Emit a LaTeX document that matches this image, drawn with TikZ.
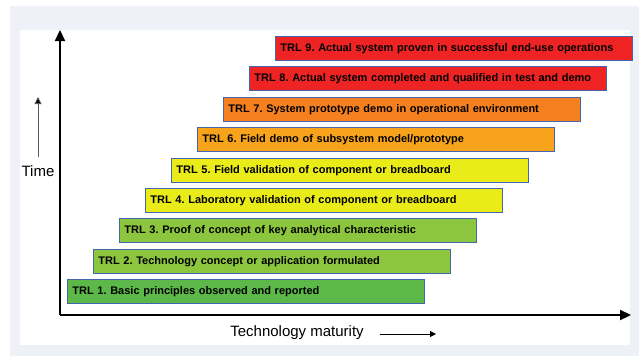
\documentclass[tikz,border=0pt]{standalone}
\usepackage{fontspec}
\setmainfont{Liberation Sans}
\usetikzlibrary{arrows.meta}
\definecolor{panel}{HTML}{EEF2F8}
\definecolor{barline}{HTML}{4565AE}
\definecolor{trlred}{HTML}{EE2424}
\definecolor{trldorange}{HTML}{F5801F}
\definecolor{trlorange}{HTML}{F7A41C}
\definecolor{trlyellow}{HTML}{EAEC1A}
\definecolor{trllgreen}{HTML}{8CC63F}
\definecolor{trlgreen}{HTML}{5CB848}
\frenchspacing
\begin{document}
\begin{tikzpicture}[x=1pt,y=-1pt,
  trlbar/.style={draw=barline,line width=0.8pt,fill=#1,anchor=north west,
    minimum height=24pt,inner xsep=5pt,inner ysep=0pt,text width=347pt,
    align=left,font=\bfseries\fontsize{11}{13}\selectfont},
  axis/.style={line width=2.2pt,-{Triangle[length=11pt,width=10pt]}},
  axislabel/.style={font=\fontsize{15}{17}\selectfont,inner sep=0pt}]
  % canvas and panels
  \useasboundingbox (0,0) rectangle (639,356);
  \fill[panel] (10,6) rectangle (639,356);
  \fill[white] (20,30) rectangle (630,345);
  % axes
  \coordinate (o) at (60,315);
  \coordinate (ytip) at (60,30);
  \coordinate (xtip) at (631,315);
  \draw[axis] (o) -- (ytip);
  \draw[axis] (o) -- (xtip);
  % time indicator
  \coordinate (t0) at (38,157);
  \coordinate (t1) at (38,97);
  \draw[gray!70!black,line width=0.9pt,-{Triangle[length=7pt,width=7pt,fill=black]}] (t0) -- (t1);
  \node[axislabel] (time) at (38,171) {Time};
  % maturity indicator
  \node[axislabel] (mat) at (297,333) {Technology maturity};
  \coordinate (m0) at (380,334);
  \coordinate (m1) at (436,334);
  \draw[line width=0.9pt,-{Triangle[length=6pt,width=6pt]}] (m0) -- (m1);
  % readiness levels
  \node[trlbar=trlgreen]   (trl1) at (67,279)  {TRL 1. Basic principles observed and reported};
  \node[trlbar=trllgreen]  (trl2) at (93,249)  {TRL 2. Technology concept or application formulated};
  \node[trlbar=trllgreen]  (trl3) at (119,218) {TRL 3. Proof of concept of key analytical characteristic};
  \node[trlbar=trlyellow]  (trl4) at (145,188) {TRL 4. Laboratory validation of component or breadboard};
  \node[trlbar=trlyellow]  (trl5) at (171,158) {TRL 5. Field validation of component or breadboard};
  \node[trlbar=trlorange]  (trl6) at (197,127) {TRL 6. Field demo of subsystem model/prototype};
  \node[trlbar=trldorange] (trl7) at (223,97)  {TRL 7. System prototype demo in operational environment};
  \node[trlbar=trlred]     (trl8) at (249,66)  {TRL 8. Actual system completed and qualified in test and demo};
  \node[trlbar=trlred]     (trl9) at (275,36)  {TRL 9. Actual system proven in successful end-use operations};
\end{tikzpicture}
\end{document}
